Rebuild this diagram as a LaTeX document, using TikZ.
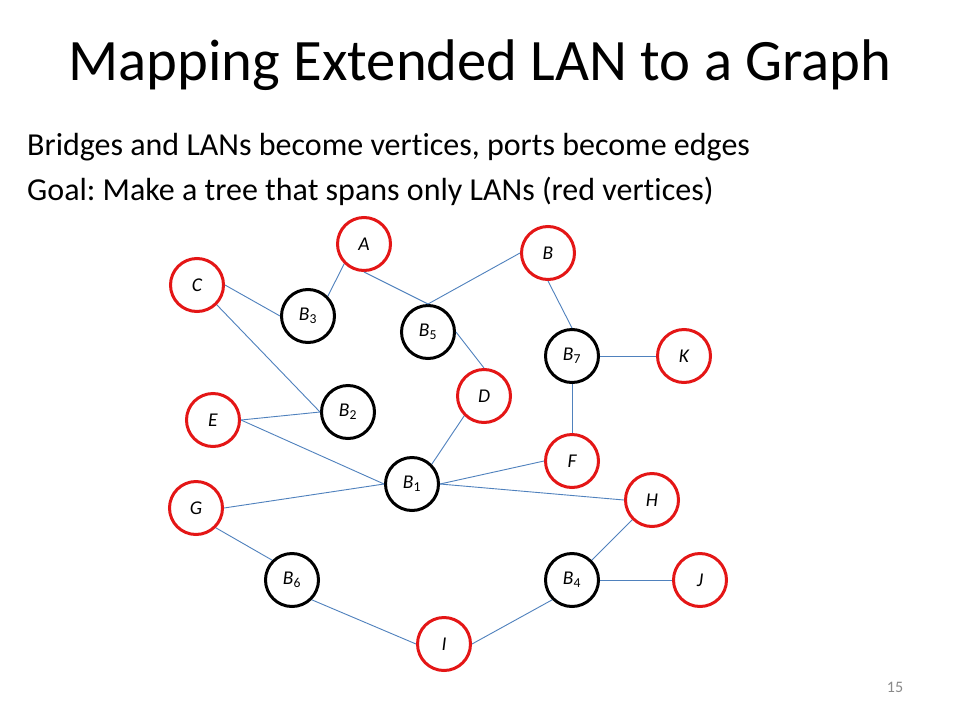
\documentclass[tikz,border=0pt]{standalone}
\usepackage{fontspec}
\setmainfont{Carlito}[Ligatures=NoCommon]
\frenchspacing
\definecolor{lanred}{RGB}{228,22,22}
\definecolor{edgeblue}{RGB}{79,129,189}
\definecolor{pnum}{RGB}{137,137,137}
\begin{document}
\begin{tikzpicture}[x=1pt,y=-1pt,
  vtx/.style={circle,line width=3pt,minimum size=53pt,inner sep=0pt,font=\fontsize{19.5}{22}\selectfont\itshape},
  lan/.style={vtx,draw=lanred},
  brg/.style={vtx,draw=black},
  link/.style={draw=edgeblue,line width=0.9pt}]
\useasboundingbox (0,0) rectangle (960,720);
\fill[white] (0,0) rectangle (960,720);
\node[anchor=base,font=\fontsize{58.7}{64}\selectfont,inner sep=0pt] (title) at (480,80.5) {Mapping Extended LAN to a Graph};
\node[anchor=base west,font=\fontsize{32}{38}\selectfont,inner sep=0pt] (l1) at (27,155) {Bridges and LANs become vertices, ports become edges};
\node[anchor=base west,font=\fontsize{32}{38}\selectfont,inner sep=0pt] (l2) at (27,200) {Goal: Make a tree that spans only LANs (red vertices)};
\node[anchor=base,font=\fontsize{16}{19}\selectfont,text=pnum,inner sep=0pt] (pg) at (895,692) {15};

\node[lan] (A) at (364,244) {A};
\node[lan] (B) at (548,253) {B};
\node[lan] (C) at (197,285) {C};
\node[brg] (B3) at (308,316) {B\textsubscript{\upshape 3}};
\node[brg] (B5) at (428,332) {B\textsubscript{\upshape 5}};
\node[brg] (B7) at (572,356) {B\textsubscript{\upshape 7}};
\node[lan] (K) at (684,356) {K};
\node[lan] (D) at (484,396) {D};
\node[brg] (B2) at (348,412) {B\textsubscript{\upshape 2}};
\node[lan] (E) at (213,420) {E};
\node[lan] (F) at (572,461) {F};
\node[brg] (B1) at (412,484) {B\textsubscript{\upshape 1}};
\node[lan] (H) at (652,500) {H};
\node[lan] (G) at (196,508) {G};
\node[brg] (B6) at (292,580) {B\textsubscript{\upshape 6}};
\node[brg] (B4) at (572,580) {B\textsubscript{\upshape 4}};
\node[lan] (J) at (700,580) {J};
\node[lan] (I) at (444,644) {I};

\draw[link] (C.east) -- (B3.west);
\draw[link] (C.south east) -- (B2.west);
\draw[link] (A.south west) -- (B3.north east);
\draw[link] (A.south) -- (B5.north);
\draw[link] (B5.north) -- (B.west);
\draw[link] (B5.east) -- (D.north);
\draw[link] (B.south) -- (B7.north);
\draw[link] (B7.east) -- (K.west);
\draw[link] (B7.south) -- (F.north);
\draw[link] (D.south west) -- (B1.north east);
\draw[link] (B1.east) -- (F.west);
\draw[link] (B1.east) -- (H.west);
\draw[link] (E.east) -- (B2.west);
\draw[link] (E.east) -- (B1.west);
\draw[link] (G.east) -- (B1.west);
\draw[link] (G.south east) -- (B6.north west);
\draw[link] (B6.south east) -- (I.west);
\draw[link] (I.east) -- (B4.south west);
\draw[link] (B4.north east) -- (H.south west);
\draw[link] (B4.east) -- (J.west);
\end{tikzpicture}
\end{document}
